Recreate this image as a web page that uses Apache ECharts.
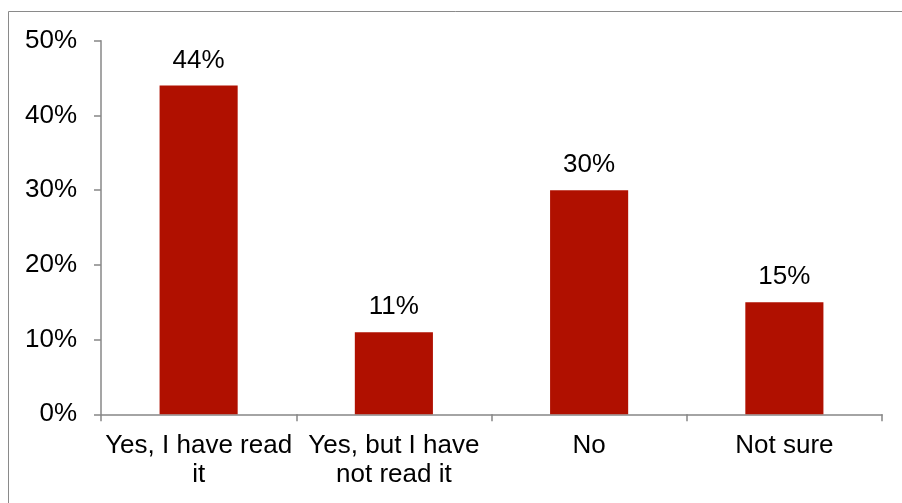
<!DOCTYPE html>
<html>
<head>
<meta charset="utf-8">
<style>
  html, body { margin: 0; padding: 0; background: #fff; }
  #chart { width: 902px; height: 503px; }
</style>
<script src="https://cdn.jsdelivr.net/npm/echarts@6/dist/echarts.min.js"></script>
</head>
<body>
<div id="chart"></div>
<script>
// Survey answers and their shares (percent)
const categories = ['Yes, I have read\nit', 'Yes, but I have\nnot read it', 'No', 'Not sure'];
const shares = [44, 11, 30, 15];
const yTicks = [0, 10, 20, 30, 40, 50];

const FONT = '"Liberation Sans", Arial, sans-serif';
const AXIS_GREY = '#878787';

const chart = echarts.init(document.getElementById('chart'), null, { renderer: 'canvas' });

chart.setOption({
  animation: false,
  backgroundColor: '#ffffff',
  textStyle: { fontFamily: FONT },
  graphic: [{
    type: 'rect',
    shape: { x: 8.5, y: 11.5, width: 1000, height: 1000 },
    style: { fill: 'none', stroke: '#8a8a8a', lineWidth: 1 },
    silent: true
  }],
  grid: { left: 101, right: 20, top: 40.8, bottom: 88.7, containLabel: false },
  xAxis: {
    type: 'category',
    data: categories,
    axisLine: { show: true, lineStyle: { color: AXIS_GREY, width: 1.5 } },
    axisTick: { show: true, alignWithLabel: false, length: 7, lineStyle: { color: AXIS_GREY, width: 1.5 } },
    axisLabel: {
      color: '#000', fontFamily: FONT, fontSize: 26, lineHeight: 29,
      margin: 17, interval: 0, align: 'center'
    },
    splitLine: { show: false }
  },
  yAxis: {
    type: 'value',
    min: yTicks[0],
    max: yTicks[yTicks.length - 1],
    interval: 10,
    axisLine: { show: true, lineStyle: { color: AXIS_GREY, width: 1.5 } },
    axisTick: { show: true, length: 7, inside: false, lineStyle: { color: AXIS_GREY, width: 1.5 } },
    axisLabel: {
      color: '#000', fontFamily: FONT, fontSize: 26, margin: 24,
      formatter: v => v + '%'
    },
    splitLine: { show: false }
  },
  series: [{
    type: 'bar',
    data: shares,
    barWidth: '40%',
    itemStyle: { color: '#B01000' },
    label: {
      show: true,
      position: 'top',
      distance: 12,
      color: '#000',
      fontFamily: FONT,
      fontSize: 26,
      formatter: p => p.value + '%'
    }
  }]
});
</script>
</body>
</html>
